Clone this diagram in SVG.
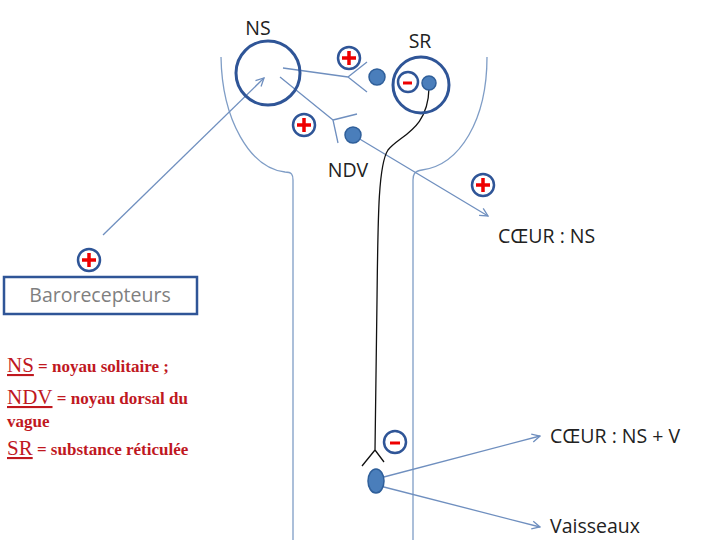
<svg xmlns="http://www.w3.org/2000/svg" width="720" height="540" viewBox="0 0 720 540">
<defs>
<style>
.o{fill:none;stroke:#7f9dc6;stroke-width:1.3}
.f{fill:none;stroke:#6f8fbf;stroke-width:1.3}
.dot{fill:#4a7ebb;stroke:#2f5f9a;stroke-width:1.5}
.ring{fill:none;stroke:#2f5597;stroke-width:3}
.sg{fill:#fff;stroke:#2f5597;stroke-width:2.5}
.t{font-family:"Open Sans","Liberation Sans",sans-serif;fill:#222;font-size:19.5px}
.lg{font-family:"Liberation Serif",serif;fill:#c0181f;font-weight:bold;font-size:17px}
.lb{font-size:21px;font-weight:normal;text-decoration:underline}
</style>
<marker id="a" viewBox="0 0 10 10" refX="9" refY="5" markerWidth="10" markerHeight="10" orient="auto" markerUnits="userSpaceOnUse"><path d="M1,1 L9,5 L1,9" fill="none" stroke="#6f8fbf" stroke-width="1.3"/></marker>
<g id="plus"><circle r="11" class="sg"/><path d="M-7,0H7M0,-7V7" stroke="#e00" stroke-width="3.5"/></g>
</defs>
<rect width="720" height="540" fill="#fff"/>
<g id="outline">
<path class="o" d="M221,57 C222,120 250,168 285,172 C292,172 293,175 293,180 L293,540"/>
<path class="o" d="M487,57 C487,120 460,165 422,170 C414,171 413,175 413,180 L413,540"/>
</g>
<g id="connectors">
<path class="f" d="M283,68 L348,77 M348,77 L367,62 M348,77 L367,92"/>
<path class="f" d="M280,77 L333,120 M333,120 L357,114 M333,120 L338,143"/>
<path class="f" d="M103,235 L264,78" marker-end="url(#a)"/>
<path class="f" d="M353,135 L488,216" marker-end="url(#a)"/>
<path fill="none" stroke="#111" stroke-width="1.3" d="M429,88 C428,130 400,135 388,150 C378,165 378,220 377,300 L375,450 M375,450 L362,466 M375,450 L384,462"/>
<path class="f" d="M380,478 L540,436" marker-end="url(#a)"/>
<path class="f" d="M380,486 L540,527" marker-end="url(#a)"/>
</g>
<g id="NS"><circle cx="268" cy="73" r="32" class="ring"/><text x="258" y="35" class="t" text-anchor="middle">NS</text></g>
<g id="SR"><circle cx="421" cy="85" r="28" class="ring"/><circle cx="408" cy="82" r="10" class="sg"/><path d="M403,83H412" stroke="#e00" stroke-width="3"/><circle cx="429" cy="83" r="7" class="dot"/><text x="420" y="48" class="t" text-anchor="middle">SR</text></g>
<g id="n1"><circle cx="377" cy="77" r="8" class="dot"/></g>
<g id="NDV"><circle cx="353" cy="135" r="8" class="dot"/><text x="348" y="177" class="t" text-anchor="middle">NDV</text></g>
<g id="bottomdot"><ellipse cx="376" cy="481" rx="8" ry="12" class="dot"/></g>
<use href="#plus" x="349" y="58"/>
<use href="#plus" x="304" y="125"/>
<use href="#plus" x="483" y="185"/>
<use href="#plus" x="89" y="260"/>
<g id="minus2"><circle cx="395" cy="442" r="11" class="sg"/><path d="M390,443H400" stroke="#e00" stroke-width="3"/></g>
<g id="baro"><rect x="4" y="277" width="193" height="37" fill="#fff" stroke="#2f5597" stroke-width="2.5"/><text x="100" y="302" class="t" text-anchor="middle" style="fill:#7f7f7f">Barorecepteurs</text></g>
<g id="c1"><text x="498" y="243" class="t">CŒUR : NS</text></g>
<g id="c2"><text x="550" y="443" class="t">CŒUR : NS + V</text></g>
<g id="v"><text x="550" y="533" class="t">Vaisseaux</text></g>
<g id="legend">
<text x="7" y="372" class="lg"><tspan class="lb">NS</tspan> = noyau solitaire ;</text>
<text x="7" y="404" class="lg"><tspan class="lb">NDV</tspan> = noyau dorsal du</text>
<text x="7" y="427" class="lg">vague</text>
<text x="7" y="455" class="lg"><tspan class="lb"> SR</tspan> = substance réticulée</text>
</g>
</svg>
